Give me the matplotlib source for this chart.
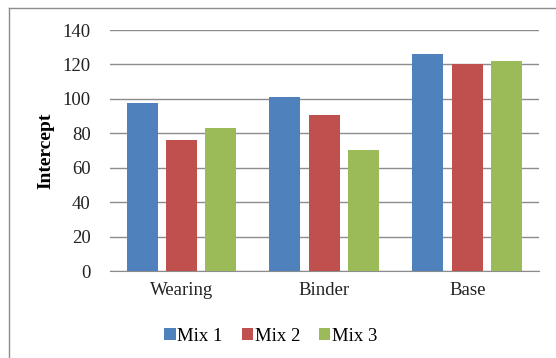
import numpy as np
import matplotlib.pyplot as plt
from matplotlib.lines import Line2D

# intercept values for each layer and mix
layers = ['Wearing', 'Binder', 'Base']
mix_names = ['Mix 1', 'Mix 2', 'Mix 3']
mix1 = [97.5, 101, 126]
mix2 = [76, 90.5, 120]
mix3 = [83, 70.5, 122]
colors = ['#4F81BD', '#C0504D', '#9BBB59']

plt.rcParams['font.family'] = ['Liberation Serif', 'DejaVu Serif']

fig = plt.figure(figsize=(5.56, 3.58), dpi=100)
ax = fig.add_axes([0.198, 0.243, 0.771, 0.673])

x = np.arange(len(layers))
width = 0.217
step = 0.276
for i, (vals, name) in enumerate(zip([mix1, mix2, mix3], mix_names)):
    ax.bar(x + (i - 1) * step, vals, width, color=colors[i], label=name, zorder=3)

ax.set_xlim(-0.5, 2.5)
ax.set_ylim(0, 140)
ax.set_yticks(range(0, 141, 20))
ax.set_xticks(x)
ax.set_xticklabels(layers)
ax.yaxis.grid(True, color='#8c8c8c', linewidth=1.0, zorder=0)
ax.tick_params(axis='both', length=0, labelsize=13.5, colors='#222222')
ax.tick_params(axis='x', pad=8)
ax.tick_params(axis='y', pad=14)
for side in ['top', 'right', 'left']:
    ax.spines[side].set_visible(False)
ax.spines['bottom'].set_color('#8c8c8c')
ax.set_ylabel('Intercept', fontsize=14, fontweight='bold', labelpad=6)

ax.legend(loc='upper center', bbox_to_anchor=(0.375, -0.165), ncol=3, frameon=False,
          fontsize=13.5, handlelength=0.6, handleheight=0.6, handletextpad=0.1,
          columnspacing=1.0)

# outer chart border
fig.add_artist(Line2D([0.016, 1.0], [0.978, 0.978], transform=fig.transFigure, color='#8c8c8c', linewidth=1))
fig.add_artist(Line2D([0.016, 0.016], [0.0, 0.978], transform=fig.transFigure, color='#8c8c8c', linewidth=1))

fig.savefig('out.png', dpi=100)
